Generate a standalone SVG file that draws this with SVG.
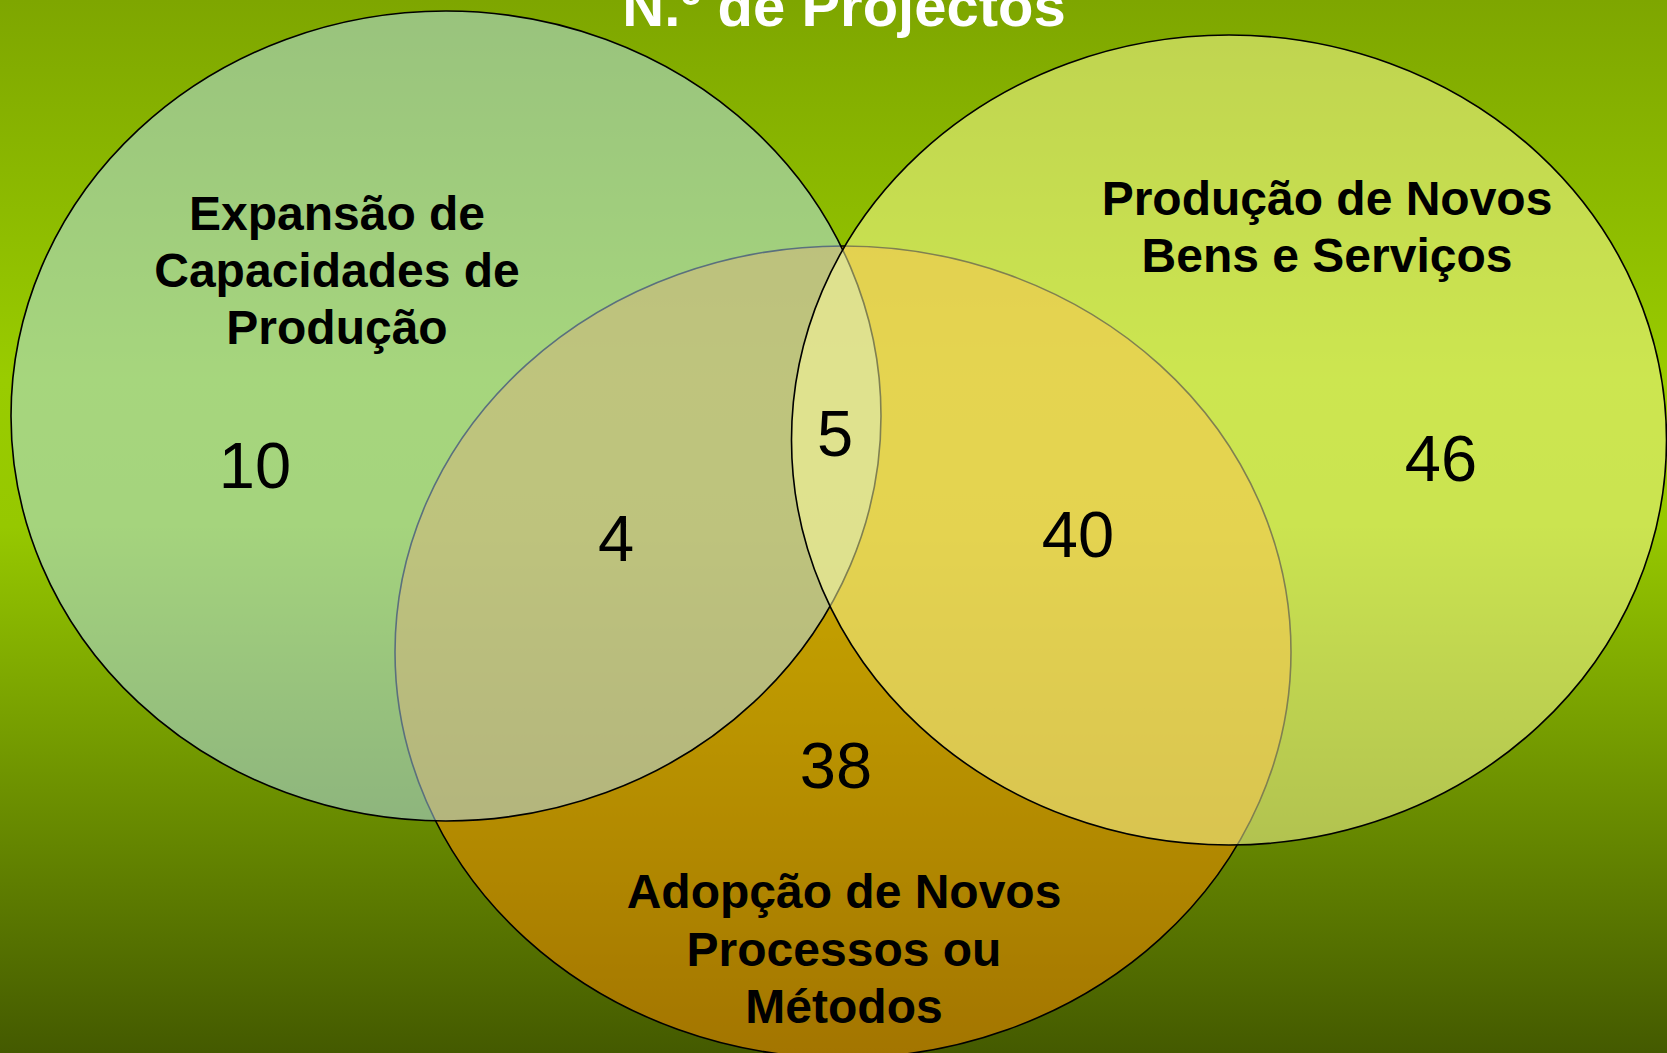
<svg xmlns="http://www.w3.org/2000/svg" width="1667" height="1053" viewBox="0 0 1667 1053">
  <defs>
    <linearGradient id="bg" x1="0" y1="0" x2="0" y2="1">
      <stop offset="0" stop-color="#7ea600"/>
      <stop offset="0.36" stop-color="#99cc00"/>
      <stop offset="0.5" stop-color="#96c800"/>
      <stop offset="1" stop-color="#445a00"/>
    </linearGradient>
  </defs>
  <style>
    .ell { stroke: #000000; stroke-width: 1.6; }
    .lbl { font-family: "Liberation Sans", Arial, sans-serif; font-weight: bold; font-size: 48px; fill: #000000; text-anchor: middle; }
    .num { font-family: "Liberation Sans", Arial, sans-serif; font-size: 65px; fill: #000000; text-anchor: middle; }
    .title { font-family: "Liberation Sans", Arial, sans-serif; font-weight: bold; font-size: 58px; fill: #ffffff; text-anchor: middle; }
  </style>
  <rect x="0" y="0" width="1667" height="1053" fill="url(#bg)"/>

  <g id="adopcao">
    <ellipse class="ell" cx="843" cy="652" rx="448" ry="406" fill="#f28c00" fill-opacity="0.55"/>
  </g>
  <g id="expansao">
    <ellipse class="ell" cx="446" cy="416" rx="435" ry="405" fill="#b4e0fa" fill-opacity="0.5"/>
  </g>
  <g id="producao">
    <ellipse class="ell" cx="1229" cy="440" rx="437.5" ry="405" fill="#ffffa0" fill-opacity="0.5"/>
  </g>
  <g id="connectors"/>

  <g id="title">
    <text class="title" x="844" y="26">N.º de Projectos</text>
  </g>
  <g id="labels">
    <text class="lbl" x="337" y="230">Expansão de</text>
    <text class="lbl" x="337" y="287">Capacidades de</text>
    <text class="lbl" x="337" y="344">Produção</text>
    <text class="lbl" x="1327" y="215">Produção de Novos</text>
    <text class="lbl" x="1327" y="272">Bens e Serviços</text>
    <text class="lbl" x="844" y="908">Adopção de Novos</text>
    <text class="lbl" x="844" y="966">Processos ou</text>
    <text class="lbl" x="844" y="1023">Métodos</text>
  </g>
  <g id="numbers">
    <text class="num" x="255" y="488">10</text>
    <text class="num" x="616" y="561">4</text>
    <text class="num" x="835" y="456">5</text>
    <text class="num" x="1078" y="557">40</text>
    <text class="num" x="1441" y="481">46</text>
    <text class="num" x="836" y="788">38</text>
  </g>
</svg>
